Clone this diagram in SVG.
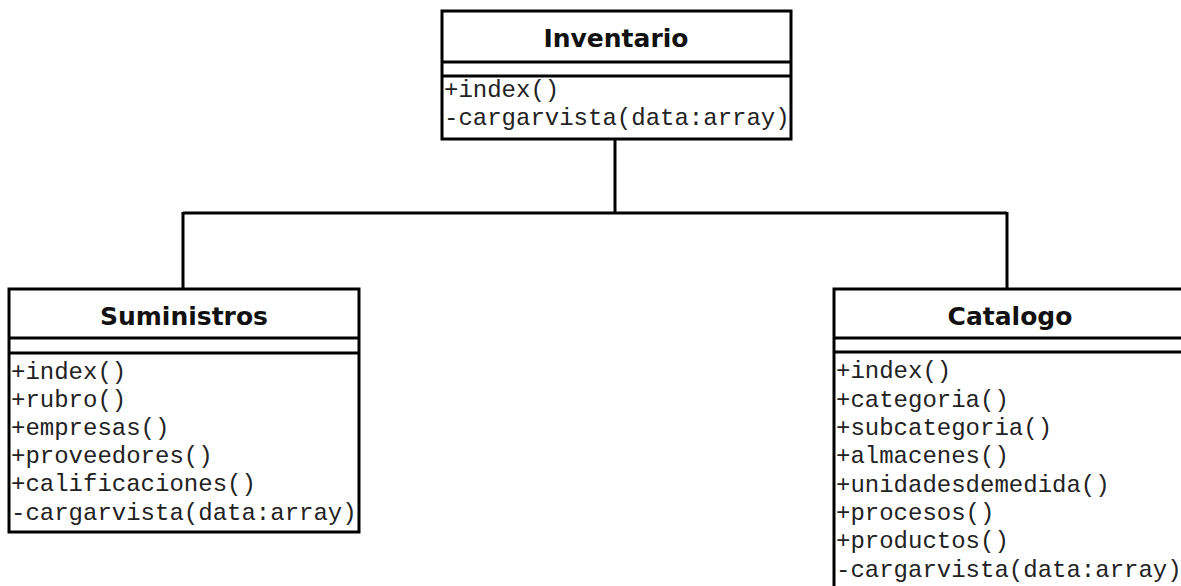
<svg xmlns="http://www.w3.org/2000/svg" width="1181" height="586" viewBox="0 0 1181 586">
<style>
.box{fill:#fff;stroke:#000;stroke-width:3}
.sep{stroke:#000;stroke-width:3}
.title{font-family:"DejaVu Sans",Verdana,sans-serif;font-weight:bold;font-size:25px;fill:#111;text-anchor:middle}
.m{font-family:"Liberation Mono","Courier New",monospace;font-size:24px;fill:#222}
.con{fill:none;stroke:#000;stroke-width:3}
</style>
<rect width="1181" height="586" fill="#fff"/>
<g id="connectors">
<path class="con" d="M615,139 V213 M183,213 H1007 M183,212 V289 M1007,212 V289"/>
</g>
<g id="inventario">
<rect class="box" x="442" y="11" width="349" height="128"/>
<line class="sep" x1="442" y1="62" x2="791" y2="62"/>
<line class="sep" x1="442" y1="76" x2="791" y2="76"/>
<text class="title" x="616" y="47">Inventario</text>
<text class="m" x="444" y="97">+index()</text>
<text class="m" x="444" y="125">-cargarvista(data:array)</text>
</g>
<g id="suministros">
<rect class="box" x="9" y="289" width="350" height="243"/>
<line class="sep" x1="9" y1="338" x2="359" y2="338"/>
<line class="sep" x1="9" y1="353" x2="359" y2="353"/>
<text class="title" x="184" y="325">Suministros</text>
<text class="m" x="11" y="379">+index()</text>
<text class="m" x="11" y="407">+rubro()</text>
<text class="m" x="11" y="435">+empresas()</text>
<text class="m" x="11" y="463">+proveedores()</text>
<text class="m" x="11" y="491">+calificaciones()</text>
<text class="m" x="11" y="520">-cargarvista(data:array)</text>
</g>
<g id="catalogo">
<rect class="box" x="834" y="289" width="350" height="305"/>
<line class="sep" x1="834" y1="338" x2="1184" y2="338"/>
<line class="sep" x1="834" y1="352" x2="1184" y2="352"/>
<text class="title" x="1010" y="325">Catalogo</text>
<text class="m" x="836" y="378">+index()</text>
<text class="m" x="836" y="407">+categoria()</text>
<text class="m" x="836" y="435">+subcategoria()</text>
<text class="m" x="836" y="463">+almacenes()</text>
<text class="m" x="836" y="492">+unidadesdemedida()</text>
<text class="m" x="836" y="520">+procesos()</text>
<text class="m" x="836" y="548">+productos()</text>
<text class="m" x="836" y="577">-cargarvista(data:array)</text>
</g>
</svg>
